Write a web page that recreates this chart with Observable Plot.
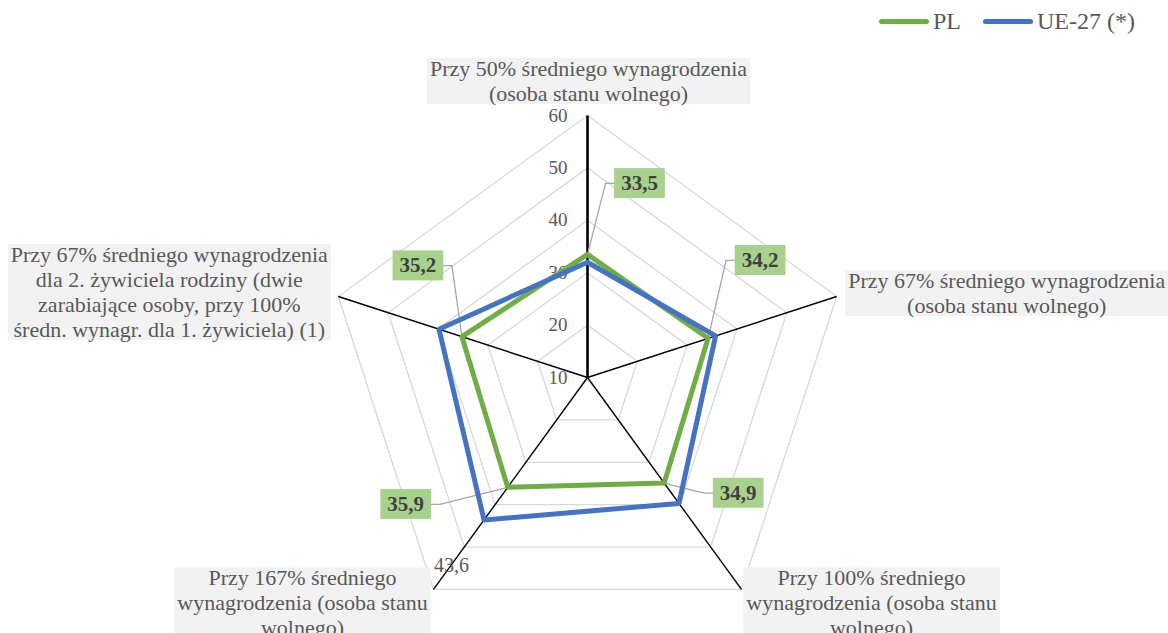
<!DOCTYPE html>
<html>
<head>
<meta charset="utf-8">
<script src="https://cdn.jsdelivr.net/npm/d3@7"></script>
<script src="https://cdn.jsdelivr.net/npm/@observablehq/plot@0.6"></script>
<style>
  html, body { margin: 0; padding: 0; background: #fff; }
  #wrap { position: relative; width: 1168px; height: 633px; overflow: hidden; font-family: "Liberation Serif", "Times New Roman", serif; }
  #legend { position: absolute; left: 879px; top: 8px; display: flex; align-items: center; font-size: 24px; color: #595959; white-space: nowrap; }
  #legend .sw { display: inline-block; width: 50px; height: 5px; border-radius: 3px; margin-right: 4px; }
  #legend .item { display: flex; align-items: center; margin-right: 22px; }
</style>
</head>
<body>
<div id="wrap">
  <div id="legend"></div>
</div>
<script>
// ---- data ----
const categories = [
  "Przy 50% średniego wynagrodzenia\n(osoba stanu wolnego)",
  "Przy 67% średniego wynagrodzenia\n(osoba stanu wolnego)",
  "Przy 100% średniego\nwynagrodzenia (osoba stanu\nwolnego)",
  "Przy 167% średniego\nwynagrodzenia (osoba stanu\nwolnego)",
  "Przy 67% średniego wynagrodzenia\ndla 2. żywiciela rodziny (dwie\nzarabiające osoby, przy 100%\nśredn. wynagr. dla 1. żywiciela) (1)"
];
const seriesNames = ["PL", "UE-27 (*)"];
const plValues = [33.5, 34.2, 34.9, 35.9, 35.2];
const ueValues = [32.0, 35.7, 39.7, 43.6, 39.8];
const plLabels = ["33,5", "34,2", "34,9", "35,9", "35,2"];
const ueLabels = ["", "", "", "43,6", ""];
const tickValues = [10, 20, 30, 40, 50, 60];
const tickLabels = ["10", "20", "30", "40", "50", "60"];

// ---- layout (px) ----
const W = 1168, H = 633, CX = 587, CY = 377, K = 5.24; // px per unit
const rMin = 10, rMax = 60;
const colors = {PL: "#70ad47", UE: "#4472c4"};
const catOffsets = [[1, -35], [170, -4], [130, 13], [-131, 13], [-169, -5]];
const plLabelOffsets = [[52, -71], [52, -78], [74, 10], [-102, 17], [-44, -71]];
const ueLabelOffsets = [[0, 0], [0, 0], [0, 0], [-50, 46], [0, 0]];

const n = categories.length;
const ang = i => Math.PI / 2 - i * 2 * Math.PI / n;
const px = (v, i) => (v - rMin) * Math.cos(ang(i));
const py = (v, i) => (v - rMin) * Math.sin(ang(i));

// grid rings
const rings = [];
tickValues.filter(t => t > rMin).forEach(t => {
  for (let i = 0; i < n; i++) rings.push({t, i, x: px(t, i), y: py(t, i)});
});
const spokes = categories.map((c, i) => ({i, x1: 0, y1: 0, x2: px(rMax, i), y2: py(rMax, i)}));
const pl = plValues.map((v, i) => ({i, v, x: px(v, i), y: py(v, i)}));
const ue = ueValues.map((v, i) => ({i, v, x: px(v, i), y: py(v, i)}));
const cats = categories.map((c, i) => ({c, x: px(rMax, i) + catOffsets[i][0] / K, y: py(rMax, i) - catOffsets[i][1] / K}));
const ticks = tickValues.map((t, j) => ({t, label: tickLabels[j], x: px(t, 0), y: py(t, 0)}));

const plLab = pl.map((d, i) => ({label: plLabels[i], px0: d.x, py0: d.y,
  x: d.x + plLabelOffsets[i][0] / K, y: d.y - plLabelOffsets[i][1] / K}));
const leaders = [];
plLab.forEach((d, k) => {
  const side = Math.sign(d.px0 - d.x);
  leaders.push({k, x: d.px0, y: d.py0});
  leaders.push({k, x: d.x + side * 34 / K, y: d.y});
  leaders.push({k, x: d.x + side * 25 / K, y: d.y});
});
const ueLab = ue.map((d, i) => ({label: ueLabels[i], x: d.x + ueLabelOffsets[i][0] / K, y: d.y - ueLabelOffsets[i][1] / K}))
  .filter(d => d.label);

const chart = Plot.plot({
  width: W, height: H, margin: 0,
  x: {domain: [-CX / K, (W - CX) / K], axis: null},
  y: {domain: [-(H - CY) / K, CY / K], axis: null},
  style: {fontFamily: "Liberation Serif, Times New Roman, serif", background: "transparent"},
  marks: [
    Plot.line(rings, {x: "x", y: "y", z: "t", curve: "linear-closed", stroke: "#d9d9d9", strokeWidth: 1.3}),
    Plot.link(spokes, {x1: "x1", y1: "y1", x2: "x2", y2: "y2", stroke: "#000", strokeWidth: d => d.i === 0 ? 2.6 : 1.4}),
    Plot.text(ticks, {x: "x", y: "y", text: "label", textAnchor: "end", dx: -20, fontSize: 19, fill: "#595959"}),
    Plot.text(cats, {x: "x", y: "y", text: "c", textAnchor: "middle", lineAnchor: "middle", lineHeight: 25 / 22, fontSize: 22, fill: "#595959"}),
    Plot.line(leaders, {x: "x", y: "y", z: "k", stroke: "#a6a6a6", strokeWidth: 1.3}),
    Plot.line(pl, {x: "x", y: "y", curve: "linear-closed", stroke: colors.PL, strokeWidth: 5, strokeLinejoin: "miter"}),
    Plot.line(ue, {x: "x", y: "y", curve: "linear-closed", stroke: colors.UE, strokeWidth: 5, strokeLinejoin: "miter"}),
    Plot.text(plLab, {x: "x", y: "y", text: "label", textAnchor: "middle", lineAnchor: "middle", fontSize: 21, fontWeight: "bold", fill: "#404040"}),
    Plot.text(ueLab, {x: "x", y: "y", text: "label", textAnchor: "start", lineAnchor: "middle", fontSize: 20, fill: "#595959"})
  ]
});
document.getElementById("wrap").appendChild(chart);

// background boxes behind labels
const textGroups = chart.querySelectorAll('g[aria-label="text"]');
function boxes(g, fill, padX, padY) {
  if (!g) return;
  g.querySelectorAll("text").forEach(t => {
    const b = t.getBBox();
    const r = document.createElementNS("http://www.w3.org/2000/svg", "rect");
    r.setAttribute("x", b.x - padX);
    r.setAttribute("y", b.y - padY);
    r.setAttribute("width", b.width + 2 * padX);
    r.setAttribute("height", b.height + 2 * padY);
    r.setAttribute("fill", fill);
    if (t.getAttribute("transform")) r.setAttribute("transform", t.getAttribute("transform"));
    t.parentNode.insertBefore(r, t);
  });
}
boxes(textGroups[1], "#f2f2f2", 3, -2);
boxes(textGroups[2], "#a9d18e", 7, 3);

// legend
const legend = document.getElementById("legend");
[[seriesNames[0], colors.PL], [seriesNames[1], colors.UE]].forEach(([name, col]) => {
  const it = document.createElement("div");
  it.className = "item";
  it.innerHTML = `<span class="sw" style="background:${col}"></span><span>${name}</span>`;
  legend.appendChild(it);
});
</script>
</body>
</html>
